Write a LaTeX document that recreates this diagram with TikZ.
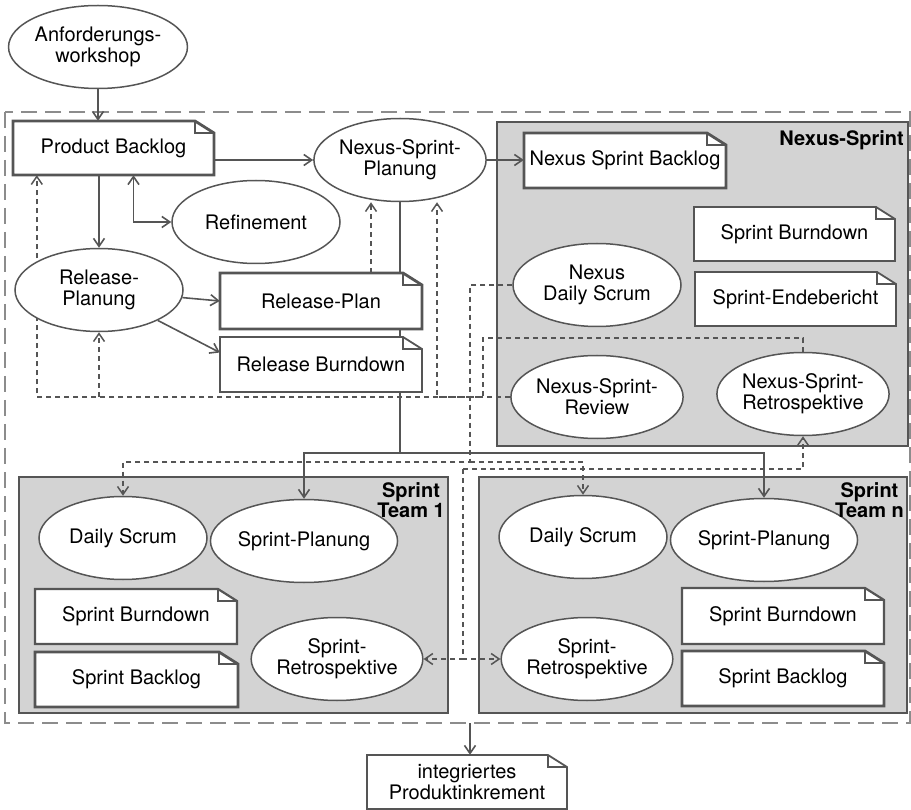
\documentclass[tikz,border=0pt]{standalone}
\usepackage{fontspec}
\setmainfont{TeX Gyre Heros}
\usetikzlibrary{arrows.meta,shapes.geometric}
\definecolor{ink}{HTML}{555555}
\definecolor{panelgray}{HTML}{D3D3D3}
\definecolor{framegray}{HTML}{8C8C8C}
\pgfdeclarelayer{panels}
\pgfdeclarelayer{links}
\pgfsetlayers{panels,links,main}

\tikzset{
  oval/.style={ellipse, draw=ink, line width=1.5pt, fill=white, minimum width=168pt,
    minimum height=83pt, inner sep=0pt, align=center},
  docline/.style={draw=ink, fill=white, line width=2.2pt, line join=miter},
  thickdoc/.style={line width=2.8pt},
  thindoc/.style={line width=1.8pt},
  doctext/.style={rectangle, inner sep=0pt, align=center},
  panel/.style={draw=ink, fill=panelgray, line width=2pt},
  paneltitle/.style={anchor=north east, inner sep=0pt, align=center,
    font=\fontsize{20pt}{20pt}\selectfont\bfseries},
  flow/.style={draw=ink, line width=1.6pt, -{Straight Barb[length=8pt,width=11pt]}},
  twoway/.style={draw=ink, line width=1.6pt,
    {Straight Barb[length=8pt,width=11pt]}-{Straight Barb[length=8pt,width=11pt]}},
  feedback/.style={draw=ink, line width=1.5pt, dash pattern=on 5pt off 4pt,
    -{Straight Barb[length=8pt,width=11pt]}},
}

% document symbol: rectangle with a folded top-right corner
% #1 extra style, #2 name, #3 left, #4 top, #5 right, #6 bottom, #7 text
\newcommand\docbox[7][]{%
  \filldraw[docline,#1] (#3,#4) -- ({#5-19},#4) -- (#5,{#4+12}) -- (#5,#6) -- (#3,#6) -- cycle;
  \draw[docline,fill=none,#1] ({#5-19},#4) |- (#5,{#4+12});
  \node[doctext, minimum width={(#5-#3)*1pt}, minimum height={(#6-#4)*1pt}]
    (#2) at ({(#3+#5)/2},{(#4+#6)/2}) {#7};
}

\begin{document}
\begin{tikzpicture}[x=1pt, y=-1pt, font=\fontsize{20pt}{21pt}\selectfont]
\useasboundingbox (0,0) rectangle (911,810);

% release frame and sprint panels
\begin{pgfonlayer}{panels}
  \draw[framegray, line width=2pt, dash pattern=on 16pt off 8pt] (5,112) rectangle (910,723);
  \draw[panel] (497,122) rectangle (908,446);
  \draw[panel] (19,477) rectangle (448,713);
  \draw[panel] (479,477) rectangle (907,713);
\end{pgfonlayer}

% product level
\node[oval] (aw) at (98,47) {Anforderungs-\\workshop};
\docbox[thickdoc]{pb}{13}{121}{214}{175}{Product Backlog}
\node[oval] (ref) at (256,222) {Refinement};
\node[oval] (nsp) at (400,160) {Nexus-Sprint-\\Planung};
\node[oval] (rp) at (99,290) {Release-\\Planung};
\docbox[thickdoc]{rplan}{220}{273}{422}{329}{Release-Plan}
\docbox[thindoc]{rb}{220}{337}{422}{392}{Release Burndown}

% Nexus sprint
\docbox[thickdoc]{nsb}{524}{133}{726}{188}{Nexus Sprint Backlog}
\docbox[thindoc]{nsbd}{694}{207}{895}{261}{Sprint Burndown}
\docbox[thindoc]{seb}{695}{272}{896}{326}{Sprint-Endebericht}
\node[oval] (nds) at (597,285) {Nexus\\Daily Scrum};
\node[oval] (nsrv) at (597,397) {Nexus-Sprint-\\Review};
\node[oval] (nsrt) at (803,394) {Nexus-Sprint-\\Retrospektive};

% sprint team 1
\node[oval] (ds1) at (123,538) {Daily Scrum};
\node[oval] (sp1) at (304,541) {Sprint-Planung};
\docbox{sbd1}{35}{589}{237}{644}{Sprint Burndown}
\docbox[thickdoc]{sbl1}{35}{652}{238}{707}{Sprint Backlog}
\node[oval] (r1) at (337,659) {Sprint-\\Retrospektive};

% sprint team n
\node[oval] (dsn) at (583,537) {Daily Scrum};
\node[oval] (spn) at (764,540) {Sprint-Planung};
\docbox{sbdn}{682}{588}{884}{644}{Sprint Burndown}
\docbox[thickdoc]{sbln}{682}{651}{884}{706}{Sprint Backlog}
\node[oval] (rn) at (587,659) {Sprint-\\Retrospektive};

% result
\docbox[thindoc]{ip}{367}{755}{567}{809}{integriertes\\Produktinkrement}

\begin{pgfonlayer}{links}
  % main flow
  \draw[flow] (aw.south) -- (aw.south |- pb.north);
  \draw[flow] (nsp.west -| pb.east) -- (nsp.west);
  \draw[flow] (rp.north |- pb.south) -- (rp.north);
  \draw[twoway] ([xshift=20pt]pb.south) |- (ref.west);
  \draw[flow] (rp) -- (rplan.west);
  \draw[flow] (rp) -- ([yshift=12pt]rb.west);
  \draw[flow] (nsp.east) -- (nsp.east -| nsb.west);
  \coordinate (pj) at (400,453);
  \draw[flow] (nsp.south) -- (pj) -| (sp1.north);
  \draw[flow] (pj) -| (spn.north);
  \coordinate (ob) at (470,723);
  \draw[flow] (ob) -- (ob |- ip.north);

  % feedback
  \draw[feedback] (nsrv.west) -| ([xshift=24pt]pb.south west);
  \draw[feedback] (rp.south |- nsrv.west) -- (rp.south);
  \coordinate (rt) at (483,338);
  \draw[feedback] (nsrt.north) |- (rt) -- (rt |- nsrv.west) -| ([xshift=37pt]nsp.south);
  \draw[feedback] ([xshift=-29pt]nsp.south |- rplan.north) -- ([xshift=-29pt]nsp.south);
  \coordinate (dj) at (470,462);
  \draw[feedback] (nds.west) -| (dj) -| (ds1.north);
  \draw[feedback] (dj) -| (dsn.north);
  \coordinate (rj) at (463,469);
  \draw[feedback] (rj) -| (nsrt.south);
  \draw[feedback] (rj) |- (r1.east);
  \draw[feedback] (rj) |- (rn.west);
\end{pgfonlayer}

% panel titles
\node[paneltitle] (tnx) at (904,130) {Nexus-Sprint};
\node[paneltitle] (tt1) at (445,482) {Sprint\\Team 1};
\node[paneltitle] (ttn) at (904,482) {Sprint\\Team n};
\end{tikzpicture}
\end{document}
